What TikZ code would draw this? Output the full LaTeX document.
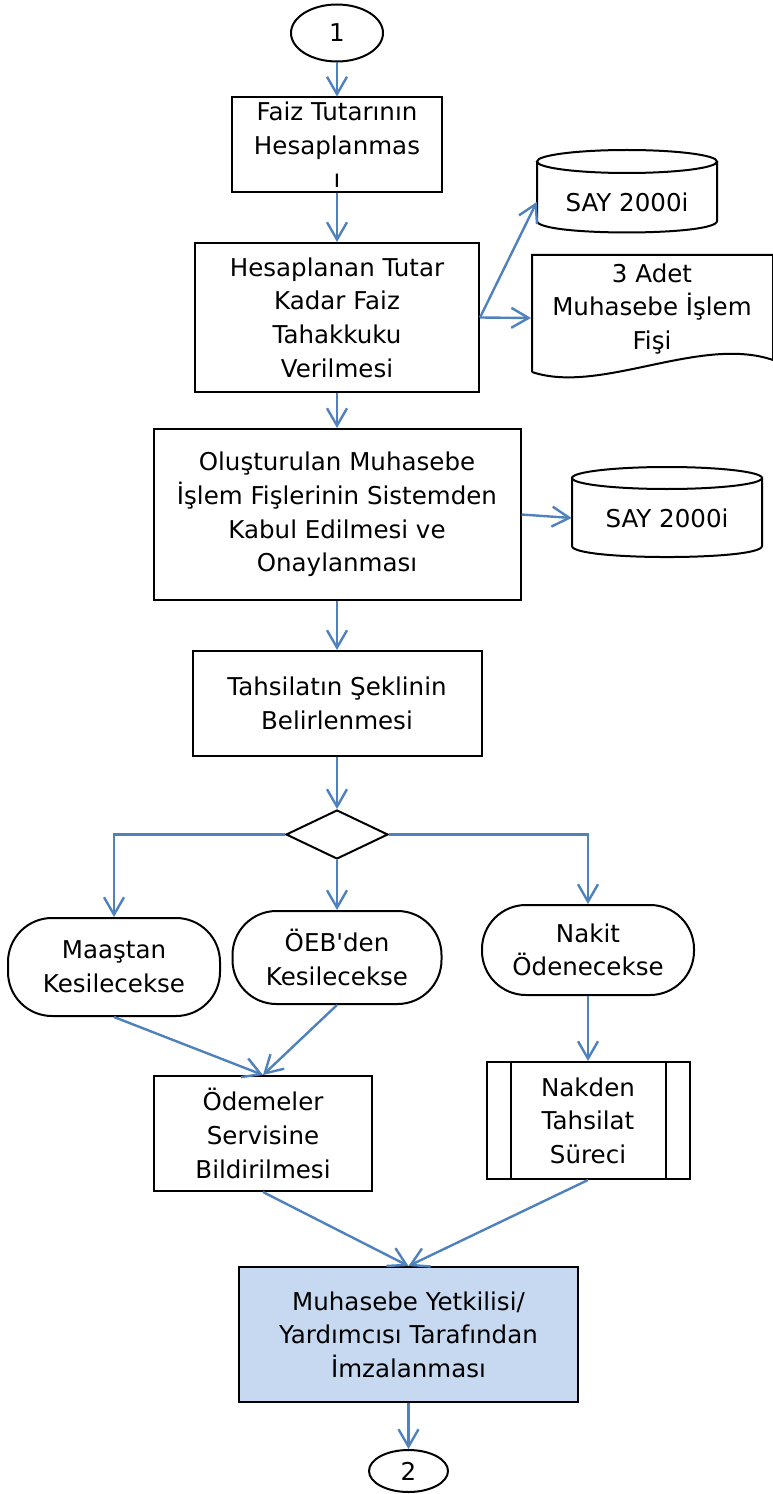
\documentclass[tikz,border=0pt]{standalone}
\usepackage{fontspec}
\setmainfont{DejaVu Sans}[Ligatures=TeXOff]
\usetikzlibrary{arrows.meta,shapes.geometric}
\definecolor{flowblue}{HTML}{4F81BD}
\definecolor{signfill}{HTML}{C6D9F1}
\begin{document}
\begin{tikzpicture}[x=0.75pt,y=-0.75pt,
                every node/.style={font=\fontsize{18.4}{25.2}\selectfont, align=center, inner sep=0pt},
                box/.style={draw, line width=1.5pt, rectangle},
                term/.style={draw, line width=1.5pt, rectangle, rounded corners=33pt},
                conn/.style={draw, line width=1.5pt, ellipse},
                flow/.style={draw=flowblue, line width=1.8pt, -{Straight Barb[length=13pt,width=15pt,line width=1.8pt]}}]
                \useasboundingbox (0,0) rectangle (773,1494);
                \node [conn, minimum width=69pt, minimum height=42.75pt] (start) at (337,33) {1};
                \node [box, minimum width=157.5pt, minimum height=71.25pt] (faiz) at (337,145) {Faiz Tutarının\\Hesaplanmas\\ı};
                \node [box, minimum width=213pt, minimum height=111.75pt] (tahakkuk) at (337,317.5) {Hesaplanan Tutar\\Kadar Faiz\\Tahakkuku\\Verilmesi};
                \draw [line width=1.5pt] (627,161.5) ellipse [x radius=90, y radius=11.5];
                \draw [line width=1.5pt] (537,161.5) -- (537,221) .. controls (537,236.3) and (717,236.3) .. (717,221) -- (717,161.5);
                \node [minimum width=135pt] (say1) at (627,202) {SAY 2000i};
                \draw [line width=1.5pt] (532,372) -- (532,255) -- (773,255) -- (773,360) .. controls (700,335) and (600,395) .. (532,372);
                \node (fis) at (652,309) {3 Adet\\Muhasebe İşlem\\Fişi};
                \coordinate (fisw) at (531,318);
                \node [box, minimum width=275.25pt, minimum height=128.25pt] (onay) at (337,514.5) {Oluşturulan Muhasebe\\İşlem Fişlerinin Sistemden\\Kabul Edilmesi ve\\Onaylanması};
                \draw [line width=1.5pt] (667,478) ellipse [x radius=95, y radius=11];
                \draw [line width=1.5pt] (572,478) -- (572,546) .. controls (572,560.7) and (762,560.7) .. (762,546) -- (762,478);
                \node [minimum width=142.5pt] (say2) at (667,518) {SAY 2000i};
                \node [box, minimum width=216.75pt, minimum height=78.75pt] (sekil) at (337,703.5) {Tahsilatın Şeklinin\\Belirlenmesi};
                \node [draw, line width=1.5pt, diamond, minimum width=76.5pt, minimum height=36.75pt] (karar) at (337,834.5) {};
                \node [term, minimum width=159pt, minimum height=73.5pt] (maas) at (114,967) {Maaştan\\Kesilecekse};
                \node [term, minimum width=156.75pt, minimum height=69.75pt] (oeb) at (337,957.5) {ÖEB'den\\Kesilecekse};
                \node [term, minimum width=159pt, minimum height=67.5pt] (nakit) at (588,950) {Nakit\\Ödenecekse};
                \node [box, minimum width=163.5pt, minimum height=86.25pt] (odeme) at (263,1133.5) {Ödemeler\\Servisine\\Bildirilmesi};
                \node [box, minimum width=152.25pt, minimum height=87.75pt] (nakden) at (588,1120.5) {Nakden\\Tahsilat\\Süreci};
                \draw [line width=1.5pt] ([xshift=18.75pt]nakden.north west) -- ([xshift=18.75pt]nakden.south west);
                \draw [line width=1.5pt] ([xshift=-18.75pt]nakden.north east) -- ([xshift=-18.75pt]nakden.south east);
                \node [box, fill=signfill, minimum width=254.25pt, minimum height=101.25pt] (imza) at (408.5,1334.5) {Muhasebe Yetkilisi/\\Yardımcısı Tarafından\\İmzalanması};
                \node [conn, minimum width=59.25pt, minimum height=31.5pt] (son) at (408.5,1471) {2};
                \draw [flow] (start.south) -- (faiz.north);
                \draw [flow] (faiz.south) -- (tahakkuk.north);
                \draw [flow] (tahakkuk.east) -- (say1.west);
                \draw [flow] (tahakkuk.east) -- (fisw);
                \draw [flow] (tahakkuk.south) -- (onay.north);
                \draw [flow] (onay.east) -- (say2.west);
                \draw [flow] (onay.south) -- (sekil.north);
                \draw [flow] (sekil.south) -- (karar.north);
                \draw [flow] (karar.west) -| (maas.north);
                \draw [flow] (karar.south) -- (oeb.north);
                \draw [flow] (karar.east) -| (nakit.north);
                \draw [flow] (maas.south) -- (odeme.north);
                \draw [flow] (oeb.south) -- (odeme.north);
                \draw [flow] (nakit.south) -- (nakden.north);
                \draw [flow] (odeme.south) -- (imza.north);
                \draw [flow] (nakden.south) -- (imza.north);
                \draw [flow] (imza.south) -- (son.north);
            \end{tikzpicture}
\end{document}
